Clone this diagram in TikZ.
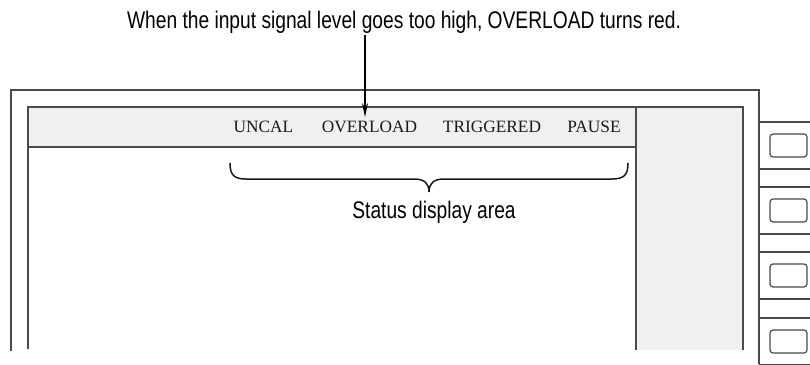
\documentclass[tikz,border=0pt]{standalone}
\usepackage{fontspec}
\setmainfont{Liberation Serif}
\newfontfamily\notefont[FakeStretch=0.8]{Liberation Sans}
\usetikzlibrary{arrows.meta}
\definecolor{panelgray}{HTML}{EFF0F2}
\definecolor{framegray}{HTML}{4A4A4A}

\begin{document}
\begin{tikzpicture}[x=1pt,y=-1pt,
  frame/.style={draw=framegray,line width=1.2pt},
  status/.style={anchor=base,inner sep=1pt,font=\fontsize{17.3}{20}\selectfont,text=black!90},
  note/.style={anchor=base,inner sep=2pt,font=\notefont\fontsize{24}{28}\selectfont,text=black}]
\useasboundingbox (0,0) rectangle (810,364);
% screen panels
\fill[panelgray] (28,107) rectangle (636,147);
\fill[panelgray] (636,107) rectangle (743,350);
\draw[frame] (11,351) -- (11,90) -- (759,90) -- (759,364);
\draw[frame] (28,349) -- (28,107) -- (743,107) -- (743,350);
\draw[frame] (28,147) -- (636,147);
\draw[frame] (636,107) -- (636,350);
% side keys
\foreach \y in {122,187,252,318} {
  \draw[frame] (759,\y) -- (810,\y);
  \draw[frame] (759,\y+47) -- (810,\y+47);
  \draw[frame,rounded corners=3pt] (770,\y+12) rectangle (807,\y+35);
}
% status readouts
\node[status] (uncal) at (263.5,132) {UNCAL};
\node[status] (ovl) at (369.5,132) {OVERLOAD};
\node[status] (trig) at (492,132) {TRIGGERED};
\node[status] (pause) at (594,132) {PAUSE};
% callouts
\node[note] (warn) at (404,28) {When the input signal level goes too high, OVERLOAD turns red.};
\node[note] (area) at (434,218) {Status display area};
\coordinate (tip) at (365,117);
\draw[line width=1.3pt,-{Stealth[length=14pt,width=6pt]}] (tip |- warn.south) -- (tip);
\draw[line width=1.5pt,black!90] (230,163) .. controls (230,175) and (234,179) .. (246,179)
  -- (414,179) .. controls (424,179) and (429,183) .. (429,192)
  .. controls (429,183) and (434,179) .. (444,179)
  -- (612,179) .. controls (624,179) and (628,175) .. (628,163);
\end{tikzpicture}
\end{document}
